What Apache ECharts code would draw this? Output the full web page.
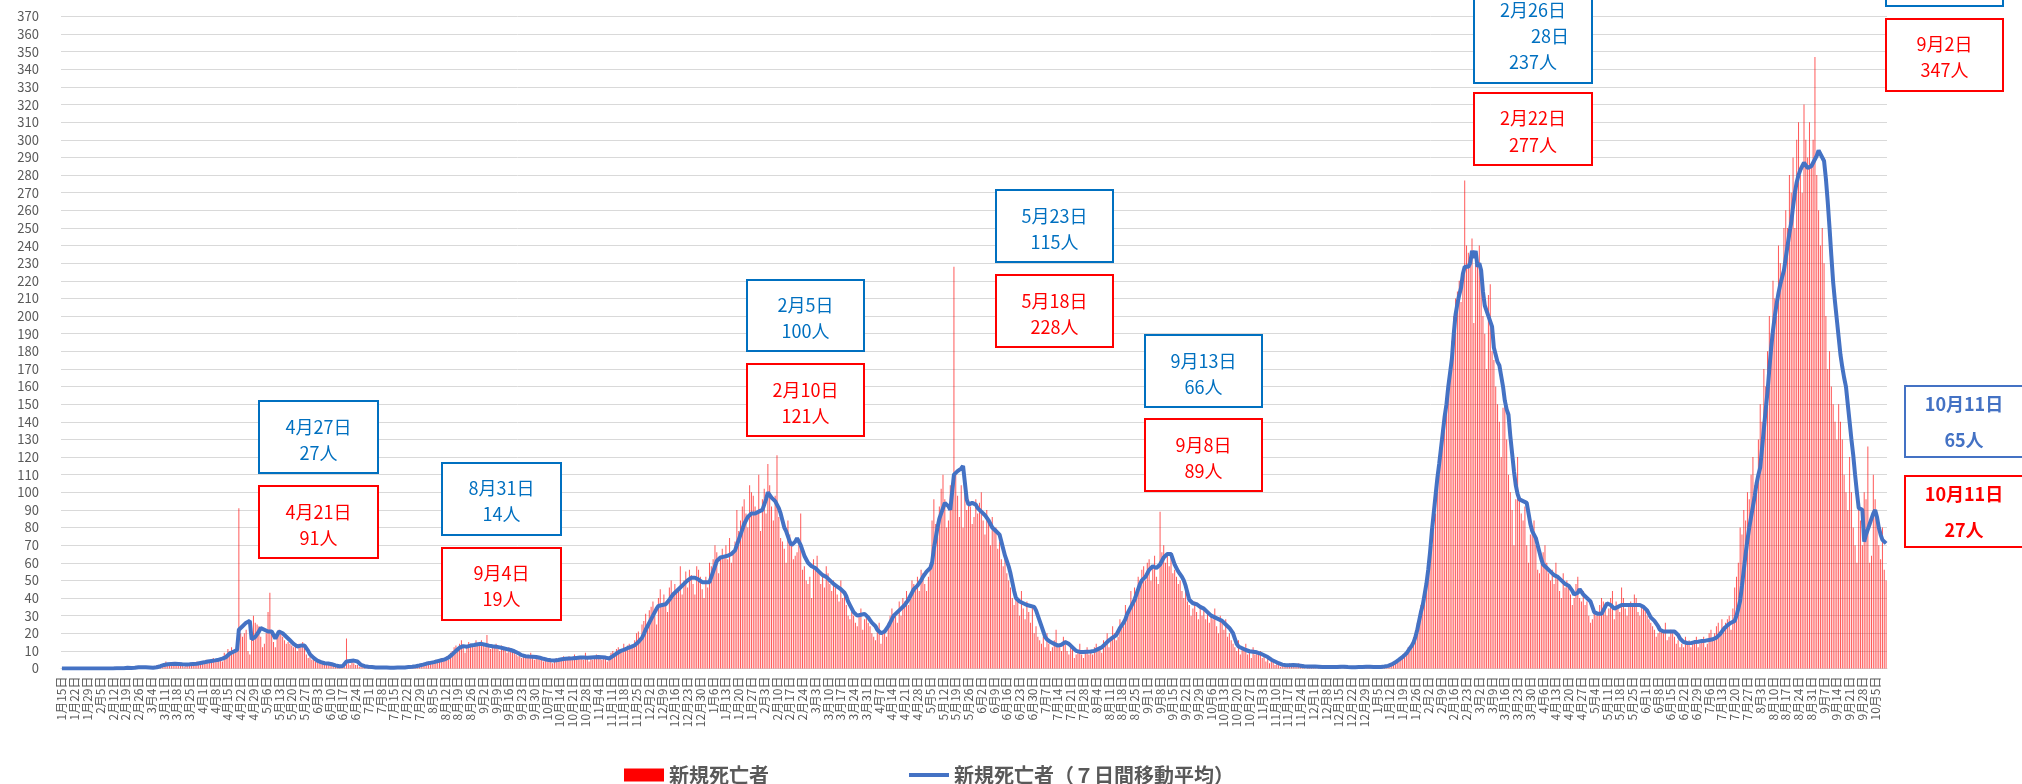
<!DOCTYPE html>
<html>
<head>
<meta charset="utf-8">
<script src="https://cdn.jsdelivr.net/npm/echarts@6/dist/echarts.min.js"></script>
<style>
html, body { margin: 0; padding: 0; background: #fff; }
#chart { width: 2022px; height: 784px; }
</style>
</head>
<body>
<div id="chart"></div>
<script>
// 新規死亡者（日別）  2020/1/15 - 2022/10/11
var deaths2020 = [
    0,0,0,0,0,0,0,0,0,0,0,0,0,0,0,0,0,
    0,0,0,0,0,0,0,0,0,0,0,0,1,0,0,0,0,0,1,1,0,0,0,1,1,1,1,0,1,
    1,0,0,1,0,1,2,1,2,2,3,4,3,2,2,3,2,3,2,2,3,1,2,3,3,2,3,3,4,2,4,
    3,4,5,3,4,5,6,4,5,6,6,4,9,8,11,10,12,9,11,10,91,20,18,20,22,10,8,17,30,26,
    25,24,18,12,14,20,32,43,20,15,12,18,22,21,18,16,14,15,14,13,12,13,10,14,12,15,12,8,6,7,5,
    5,4,5,3,4,3,2,3,2,3,2,2,1,1,1,1,2,1,17,3,2,4,3,2,2,1,1,2,1,0,
    1,1,0,1,0,1,0,1,0,0,1,0,0,1,0,1,0,1,0,1,1,0,1,1,2,1,2,1,2,3,2,
    3,2,4,3,4,3,5,4,5,6,4,6,7,5,9,10,12,13,11,14,16,12,9,13,15,14,13,12,16,14,15,
    16,13,12,19,14,11,12,13,14,11,10,13,12,11,9,12,10,11,9,8,7,8,6,7,8,6,7,9,6,5,
    6,7,5,6,4,5,4,6,5,3,5,6,4,5,6,7,5,6,7,5,6,8,5,6,7,6,5,9,6,4,7,
    5,6,8,7,6,5,7,6,4,5,9,10,8,11,12,9,11,14,12,13,14,11,12,16,20,21,15,25,27,31,
    22,33,35,38,30,25,40,45,35,42,37,32,46,50,43,48,44,45,58,42,50,55,46,56,53,48,42,58,56,52,45
];
var deaths2021 = [
    40,52,46,60,58,62,70,66,54,62,68,64,70,62,74,60,66,72,90,78,84,92,96,88,80,104,100,98,92,88,110,
    78,96,102,88,116,104,92,84,98,121,86,74,72,68,60,84,76,70,62,64,66,70,88,56,58,50,48,52,
    40,62,58,64,54,48,52,46,58,54,48,44,50,46,42,38,50,40,42,36,30,28,32,30,26,24,30,34,22,28,30,
    26,24,20,18,16,22,26,14,20,22,18,26,30,34,28,32,26,38,30,40,38,44,36,42,50,48,46,52,44,56,
    54,48,44,52,60,84,96,82,78,92,102,110,96,80,84,104,94,228,112,98,86,104,80,108,90,96,92,82,86,96,88,
    94,100,84,76,90,82,70,86,78,80,68,72,62,58,66,54,50,46,40,36,42,38,30,44,34,28,38,32,26,36,
    20,24,18,16,14,18,12,20,14,10,12,16,22,12,14,10,18,16,10,8,14,12,6,8,10,14,8,6,10,12,8,
    10,8,12,14,10,12,9,16,14,20,12,18,24,20,16,18,28,26,24,36,30,32,44,38,46,40,52,48,56,58,50,
    60,62,50,58,64,52,48,89,66,70,60,64,58,66,54,56,52,48,50,44,40,46,38,36,30,34,38,32,28,36,
    30,34,28,32,26,30,28,34,24,20,30,26,22,28,18,20,16,14,12,10,16,8,12,10,14,8,10,6,12,8,10,
    8,10,6,8,4,6,3,5,4,2,3,2,1,3,2,1,2,3,1,2,2,1,3,1,1,2,0,1,2,1,
    1,2,0,1,1,0,1,2,1,0,1,1,0,2,1,1,0,1,1,0,1,0,1,1,0,1,1,0,2,1,1
];
var deaths2022 = [
    1,0,1,2,0,1,1,1,2,1,2,3,3,2,4,5,4,6,8,9,8,12,10,14,18,22,26,30,36,40,44,
    50,56,64,70,80,88,100,110,122,130,148,150,162,172,186,200,210,214,220,208,226,277,240,236,230,244,196,236,
    230,240,220,200,190,170,212,218,180,175,160,150,140,120,148,150,130,110,100,90,70,96,120,96,88,84,92,70,60,76,80,
    84,70,56,54,62,66,70,60,54,50,56,48,60,52,44,40,54,46,50,48,42,36,40,48,52,40,38,44,36,38,
    30,26,28,34,30,32,36,40,38,36,30,34,40,44,28,38,36,32,46,40,34,30,36,38,36,42,40,32,30,36,34,
    34,30,28,26,24,22,18,20,24,22,20,26,16,18,22,20,18,14,16,12,14,12,18,14,16,12,14,16,18,12,
    14,16,18,12,14,20,22,16,20,24,26,20,28,24,26,28,30,22,34,46,52,60,80,76,90,84,100,96,110,120,104,
    100,130,150,140,170,160,180,200,190,220,210,200,240,230,220,250,260,250,280,270,290,250,300,310,280,270,320,300,290,310,285,
    300,347,280,260,240,250,230,200,170,180,160,150,140,130,150,140,130,110,100,90,120,100,80,70,60,94,84,70,100,96,
    126,60,64,110,96,88,70,62,80,56,50
];

// 新規死亡者（７日間移動平均）
var avg2020 = [
    0,0,0,0,0,0,0,0,0,0,0,0,0,0,0,0,0,
    0,0,0,0,0,0,0,0,0,0,0,0,0.1,0.1,0.1,0.1,0.1,0.1,0.3,0.4,0.3,0.3,0.3,0.4,0.6,0.7,0.7,0.7,0.7,
    0.7,0.6,0.6,0.6,0.4,0.6,0.7,1,1.3,1.6,2,2.3,2.4,2.4,2.6,2.7,2.7,2.6,2.6,2.4,2.4,2.3,2.3,2.3,2.4,2.4,2.6,2.6,2.7,2.9,3.1,
    3.3,3.5,3.7,4,4.1,4.3,4.5,4.6,4.8,5,5.3,5.6,6,6.5,7.5,8.5,9,9.5,10,10.5,22,23,24,25,26,26.5,27,16.5,17,18,
    19,21,23,23,22,22,21,20,21,19,17,18,21,21,20,19,18,17,16,15,14,13,12.5,12.5,13,13,13,12,10,8,7,
    6,5,4.5,4,3.6,3.3,3,3,2.8,2.6,2.4,2.2,1.8,1.5,1.3,1.3,1.4,1.5,4,4.2,4.3,4.5,4.5,4.3,4,3.5,2,1.6,1.3,1.1,
    1,0.9,0.8,0.7,0.6,0.6,0.5,0.5,0.5,0.5,0.5,0.4,0.4,0.4,0.4,0.5,0.5,0.5,0.5,0.6,0.6,0.7,0.8,0.9,1,1.1,1.3,1.5,1.7,2,2.2,
    2.5,2.8,3,3.2,3.4,3.6,3.9,4.2,4.5,4.7,4.9,5.2,5.6,6.3,7,8,9,10,11,11.8,12.4,12.7,12.5,12.4,12.6,13,13.2,13.3,13.5,13.8,14,
    14,13.8,13.5,13.3,13,12.8,12.6,12.5,12.4,12.2,12,11.8,11.5,11.2,11,10.8,10.5,10.2,9.8,9.3,8.8,8.2,7.6,7.2,7,6.9,6.8,6.8,6.7,6.6,
    6.5,6.3,6.1,5.8,5.5,5.2,5,4.8,4.7,4.6,4.6,4.7,4.8,5,5.2,5.4,5.5,5.6,5.7,5.8,5.8,5.9,6,6.1,6.2,6.2,6.2,6.2,6.1,6.2,6.3,
    6.3,6.4,6.4,6.5,6.5,6.4,6.3,6.2,6,5.7,6.2,7,7.8,8.5,9.2,9.8,10.2,10.6,11,11.5,12,12.3,12.6,13.2,14,15,16,17.5,19.5,22,
    24,26,28,30,32,34,35.5,36,36,36,36.5,37.5,39,40.5,42,43,44,45,46,47,48,49,50,51,51.5,52,51.5,51,50.5,51,49
];
var avg2021 = [
    50,49,48,49,52,55,58,61,62,63,63,63.5,64,64,64.5,65,65.5,67,70,73,76,79,82,84,86,87,88,88.5,88,89,89,
    89,90,93,96,100,99,97,96,95,93,91,88,84,80,78,75,72,70,70,72,74,73,70,67,64,62,60,59,
    58,57.5,57,56,55,54,53,53,52,51,50,49,48,47,46.5,46,45,44,43,41,38,36,34,32,31,30,30,30.5,31,31,30,
    29,27.5,26,25.5,24,22,21,20,20,21,22.5,24,26,28,30,31,32,33,34,35,36,37,39,41,43,45,46,47,48,50,
    52,53,55,56,57,60,68,74,80,85,88,91,94,93,92,90,91,110,111,112,113,113.5,115,114,96,93,93,94,94,93,91,
    90,89,88,87,86,84,82,80,79,78,77,76,72,68,64,61,58,54,49,44,40,39,38,38,37,37,36,36,35.5,35,
    35,33,30,27,24,21,18,16.5,15.5,15,14.5,14,13.5,13,13,13.5,14,15,15,14,13,12,11,10,9.5,9.4,9.3,9.3,9.4,9.5,9.6,
    9.6,9.8,10,10.5,11,11.5,12,13,14,15,16,17,17.5,18,19,21,23,24.5,26,28,31,33,35,37,39,42,45,48,50,51,52,
    54,56,57,58,58.5,57,57,59,61,63,64,65,66,65,62,59,57,55,54,52,50,47,43,39,38,37,37,36.5,36,35,
    35,34,33,32,31,30,29.5,29,28.5,28,27.5,27,26,25,24,23,22,20,17,14,12.5,12,11.5,11,10.5,10,9.8,9.6,9.5,9.4,9.2,
    9,8.5,8,7.5,7,6.5,5.8,5,4.5,4,3.5,3,2.5,2.2,2,1.9,1.8,1.8,1.9,2,2,1.9,1.8,1.6,1.4,1.3,1.2,1.2,1.2,1.2,
    1.2,1.1,1,1,1,0.9,0.9,0.9,0.8,0.8,0.8,0.8,0.9,0.9,1,1,1,1,0.9,0.8,0.8,0.7,0.7,0.7,0.8,0.8,0.9,0.9,1,1,1
];
var avg2022 = [
    1,1,0.9,0.9,0.8,0.8,0.9,1,1.1,1.3,1.5,1.8,2.3,2.8,3.5,4.2,5,5.8,6.6,7.5,8.5,10,11.5,13,15,18,22,27,32,36,42,
    48,56,66,78,88,98,108,116,125,134,143,150,160,168,176,190,201,207,212,216,224,228,229,228,230,237,233,237,
    228,230,226,214,206,203,200,199,194,182,178,174,172,166,160,152,147,144,132,122,112,104,99,96,95,95,95,94,88,82,78,
    76,74,70,66,62,59,58,57,56,55,54,53,52,52,51,50,49,48,48,47,46,44,42,41.5,43,45,44,42,41,40,
    41,38,35,32,31,31,31,31,33,35,37,37,36,35,34,34,35,36,36,36,36,36,36,36,36,36,36,36,36,36,35,
    34,33,31,29,28,27,26,24,22,21,21,21,21,21,21,21,21,20,19,17,16,15,15,14.5,14.4,14.4,14.6,15,15,15.2,
    15.5,15.6,15.6,15.8,16,16.2,16.4,16.6,16.7,17.5,18.5,19.5,20.5,22.4,23.5,24.5,25.3,26,26.5,27,30,34,38.4,47,56,65,73,80,86,92,98,
    105,110,114,125,136,147,157,170,182,192,200,207,213,218,222,226,233,240,247,253,262,270,276,280,283,285,287,286,284,283,285,
    287,288,291,294,292,290,288,278,265,250,234,219,208,198,188,178,171,165,160,150,140,130,121,110,100,91,91,90,72,76,
    79,82,85,88,90,86,80,76,73,72,71
];

var deaths = deaths2020.concat(deaths2021, deaths2022);
var avg7 = avg2020.concat(avg2021, avg2022);

// 日付カテゴリ（1/15 から1日ずつ）
var dates = [];
for (var i = 0; i < deaths.length; i++) {
    var d = new Date(2020, 0, 15 + i);
    dates.push((d.getMonth() + 1) + '月' + d.getDate() + '日');
}

var FONT = '"Noto Sans CJK JP", "Noto Sans", sans-serif';
var BLUE = '#0070C0', RED = '#FF0000', BLUE2 = '#4472C4';

// 注釈ボックス
function box(x, y, w, h, color, lines, ys, weight) {
    var els = [{
        type: 'rect',
        shape: { x: x, y: y, width: w, height: h },
        style: { fill: '#fff', stroke: color, lineWidth: 2 },
        z: 100
    }];
    for (var k = 0; k < lines.length; k++) {
        els.push({
            type: 'text',
            x: x + w / 2, y: ys[k],
            style: {
                text: lines[k], fill: color, font: (weight || 'normal') + ' 18px ' + FONT,
                align: 'center', verticalAlign: 'middle'
            },
            z: 101
        });
    }
    return els;
}

var graphics = [].concat(
    box(259, 401, 119, 72, BLUE, ['4月27日', '27人'], [427, 453]),
    box(259, 486, 119, 72, RED, ['4月21日', '91人'], [512, 538]),
    box(442, 463, 119, 72, BLUE, ['8月31日', '14人'], [488, 514]),
    box(442, 548, 119, 72, RED, ['9月4日', '19人'], [573, 599]),
    box(747, 280, 117, 71, BLUE, ['2月5日', '100人'], [305, 331]),
    box(747, 364, 117, 72, RED, ['2月10日', '121人'], [390, 416]),
    box(996, 190, 117, 72, BLUE, ['5月23日', '115人'], [216, 242]),
    box(996, 275, 117, 72, RED, ['5月18日', '228人'], [301, 327]),
    box(1145, 335, 117, 72, BLUE, ['9月13日', '66人'], [361, 387]),
    box(1145, 419, 117, 72, RED, ['9月8日', '89人'], [445, 471]),
    box(1474, -20, 118, 103, BLUE, ['2月26日', '237人'], [10, 62]),
    box(1474, 93, 118, 72, RED, ['2月22日', '277人'], [118, 145]),
    box(1886, -50, 117, 56, BLUE, [], []),
    box(1886, 19, 117, 72, RED, ['9月2日', '347人'], [44, 70]),
    box(1905, 386, 118, 71, BLUE2, ['10月11日', '65人'], [404, 440], 'bold'),
    box(1905, 476, 118, 71, RED, ['10月11日', '27人'], [494, 530], 'bold')
);
// 2/26 ボックスの２行目（右寄せ）
graphics.push({
    type: 'text', x: 1569, y: 36,
    style: { text: '28日', fill: BLUE, font: '18px ' + FONT, align: 'right', verticalAlign: 'middle' },
    z: 101
});

var chart = echarts.init(document.getElementById('chart'));
chart.setOption({
    animation: false,
    backgroundColor: '#fff',
    textStyle: { fontFamily: FONT },
    grid: { left: 61, right: 135, top: 16.5, bottom: 115.5, containLabel: false },
    legend: {
        left: 619, top: 760,
        itemWidth: 40, itemHeight: 13, itemGap: 138,
        textStyle: { fontSize: 20, color: '#595959', fontWeight: 'bold', fontFamily: FONT },
        data: [
            { name: '新規死亡者', icon: 'rect', itemStyle: { color: RED, opacity: 1 } },
            { name: '新規死亡者（７日間移動平均）', itemStyle: { opacity: 0 }, lineStyle: { color: BLUE2, width: 4 } }
        ]
    },
    xAxis: {
        type: 'category',
        data: dates,
        boundaryGap: true,
        axisLine: { lineStyle: { color: '#d9d9d9', width: 1 } },
        axisTick: { show: false },
        axisLabel: {
            interval: 6, rotate: 90, fontSize: 12, color: '#595959', margin: 8,
            hideOverlap: false, showMinLabel: true,
            fontFamily: FONT
        },
        splitLine: { show: false }
    },
    yAxis: {
        type: 'value',
        min: 0, max: 370, interval: 10,
        axisLine: { show: false },
        axisTick: { show: false },
        axisLabel: { fontSize: 13, color: '#595959', margin: 22, fontFamily: FONT },
        splitLine: { lineStyle: { color: '#d9d9d9', width: 1 } }
    },
    series: [{
        name: '新規死亡者',
        type: 'bar',
        data: deaths,
        barWidth: '55%',
        itemStyle: { color: 'rgba(255,0,0,0.65)' },
        z: 2
    }, {
        name: '新規死亡者（７日間移動平均）',
        type: 'line',
        data: avg7,
        symbol: 'none',
        lineStyle: { color: BLUE2, width: 4 },
        itemStyle: { color: BLUE2 },
        z: 3
    }],
    graphic: graphics
});
</script>
</body>
</html>
